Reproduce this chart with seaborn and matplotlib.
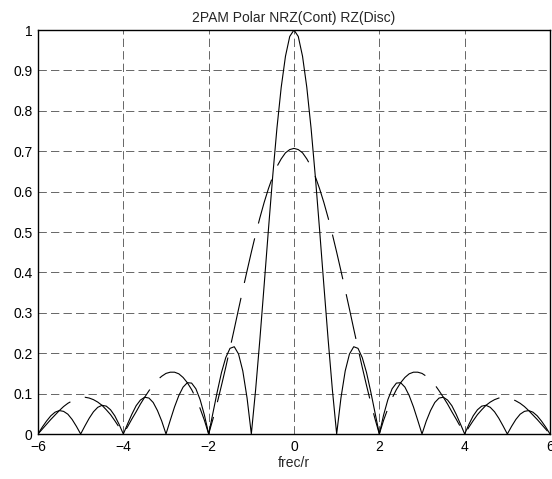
import numpy as np
import pandas as pd
import seaborn as sns
import matplotlib.pyplot as plt

# frecuencia normalizada f/r
frec = np.round(np.linspace(-6, 6, 121), 1)

# NRZ polar (linea continua)
nrz = [0, .017, .032, .045, .054, .058, .056, .049, .036, .019,
       0, .020, .039, .055, .066, .071, .069, .060, .045, .024,
       0, .025, .049, .070, .084, .091, .089, .078, .058, .032,
       0, .034, .067, .095, .116, .127, .126, .112, .085, .047,
       0, .052, .104, .152, .189, .212, .216, .198, .156, .089,
       0, .109, .234, .368, .505, .637, .757, .858, .935, .984,
       1.000,
       .984, .935, .858, .757, .637, .505, .368, .234, .109, 0,
       .089, .156, .198, .216, .212, .189, .152, .104, .052, 0,
       .047, .085, .112, .126, .127, .116, .095, .067, .034, 0,
       .032, .058, .078, .089, .091, .084, .070, .049, .025, 0,
       .024, .045, .060, .069, .071, .066, .055, .039, .020, 0,
       .019, .036, .049, .056, .058, .054, .045, .032, .017, 0]

# RZ polar (linea discontinua)
rz = [0, .012, .024, .036, .047, .058, .068, .076, .082, .087,
      .090, .091, .089, .085, .079, .071, .060, .048, .033, .017,
      0, .018, .037, .055, .074, .091, .107, .122, .134, .143,
      .150, .153, .153, .149, .140, .127, .110, .089, .063, .034,
      0, .037, .077, .120, .165, .212, .260, .309, .357, .404,
      .450, .494, .535, .573, .607, .637, .662, .681, .696, .704,
      .707,
      .704, .696, .681, .662, .637, .607, .573, .535, .494, .450,
      .404, .357, .309, .260, .212, .165, .120, .077, .037, 0,
      .034, .063, .089, .110, .127, .140, .149, .153, .153, .150,
      .143, .134, .122, .107, .091, .074, .055, .037, .018, 0,
      .017, .033, .048, .060, .071, .079, .085, .089, .091, .090,
      .087, .082, .076, .068, .058, .047, .036, .024, .012, 0]

xticks = [-6, -4, -2, 0, 2, 4, 6]
yticks = [0, 0.1, 0.2, 0.3, 0.4, 0.5, 0.6, 0.7, 0.8, 0.9, 1]

sns.set_style('white')
plt.rcParams['font.family'] = ['Liberation Sans', 'DejaVu Sans']
plt.rcParams['lines.scale_dashes'] = False

df = pd.DataFrame({'frec': frec, 'NRZ': nrz, 'RZ': rz})

fig = plt.figure(figsize=(5.52, 4.79), dpi=100)
ax = fig.add_axes([38 / 552, 45 / 479, 512 / 552, 404 / 479])

sns.lineplot(data=df, x='frec', y='NRZ', color='black', lw=0.8, ax=ax)
sns.lineplot(data=df, x='frec', y='RZ', color='black', lw=0.8,
             linestyle=(0, (33, 11)), ax=ax)

ax.set_xlim(-6, 6)
ax.set_ylim(0, 1)
ax.set_xticks(xticks)
ax.set_yticks(yticks)
ax.set_yticklabels(['0', '0.1', '0.2', '0.3', '0.4', '0.5', '0.6', '0.7', '0.8', '0.9', '1'])
ax.grid(True, color='0.3', lw=0.6, linestyle=(0, (6, 3)))
ax.tick_params(direction='in', length=4, labelsize=10, colors='black', pad=4)
for s in ax.spines.values():
    s.set_color('black')
    s.set_linewidth(1.0)

ax.set_title('2PAM Polar NRZ(Cont) RZ(Disc)', fontsize=10, pad=6)
ax.set_xlabel('frec/r', fontsize=10, labelpad=2)
ax.set_ylabel('')

fig.savefig('out.png', dpi=100)
